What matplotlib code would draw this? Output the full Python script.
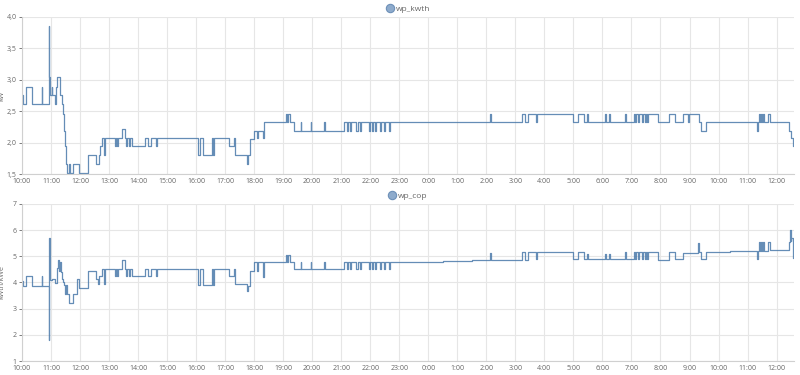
import matplotlib.pyplot as plt
from matplotlib.lines import Line2D
from matplotlib.ticker import FuncFormatter

plt.rcParams['font.family'] = ['Open Sans', 'DejaVu Sans']

# time in hours since 10:00 (day 1)
kwth_t = [0.00, 0.05, 0.14, 0.33, 0.68, 0.70, 0.92, 0.94, 0.96, 1.03, 1.05, 1.14,
          1.18, 1.20, 1.31, 1.38, 1.41, 1.44, 1.47, 1.50, 1.53, 1.56, 1.62, 1.64,
          1.77, 1.98, 2.29, 2.54, 2.67, 2.70, 2.74, 2.83, 2.86, 3.22, 3.25, 3.29,
          3.31, 3.45, 3.55, 3.60, 3.62, 3.70, 3.72, 3.79, 4.24, 4.33, 4.45, 4.62,
          4.66, 6.07, 6.13, 6.22, 6.53, 6.57, 6.62, 7.13, 7.30, 7.34, 7.74, 7.80,
          7.84, 8.00, 8.10, 8.13, 8.30, 8.33, 9.09, 9.14, 9.17, 9.22, 9.37, 9.60,
          9.62, 9.95, 9.97, 10.41, 10.44, 11.08, 11.20, 11.24, 11.31, 11.35, 11.52,
          11.56, 11.63, 11.67, 11.94, 11.98, 12.06, 12.10, 12.17, 12.21, 12.32,
          12.36, 12.46, 12.50, 12.63, 12.67, 16.13, 16.16, 17.24, 17.33, 17.43,
          17.71, 17.74, 19.00, 19.15, 19.38, 19.46, 19.49, 20.09, 20.12, 20.23,
          20.26, 20.76, 20.80, 21.09, 21.13, 21.16, 21.22, 21.26, 21.36, 21.40,
          21.47, 21.50, 21.53, 21.56, 21.93, 22.31, 22.51, 22.77, 22.94, 22.97,
          23.31, 23.40, 23.56, 25.32, 25.35, 25.40, 25.43, 25.46, 25.49, 25.52,
          25.55, 25.70, 25.76, 26.44, 26.50, 26.57, 26.60]
kwth_v = [2.75, 2.62, 2.89, 2.62, 2.89, 2.62, 3.86, 3.04, 2.75, 2.89, 2.75, 2.62,
          2.89, 3.04, 2.75, 2.62, 2.45, 2.19, 1.94, 1.80, 1.66, 1.52, 1.66, 1.52,
          1.66, 1.52, 1.80, 1.66, 1.80, 1.94, 2.08, 1.80, 2.08, 1.94, 2.08, 1.94,
          2.08, 2.21, 2.08, 1.94, 2.08, 1.94, 2.08, 1.94, 2.08, 1.94, 2.08, 1.94,
          2.08, 1.80, 2.08, 1.80, 2.08, 1.80, 2.08, 1.94, 2.08, 1.80, 1.66, 1.80,
          2.05, 2.19, 2.08, 2.19, 2.08, 2.32, 2.45, 2.32, 2.45, 2.32, 2.19, 2.32,
          2.19, 2.32, 2.19, 2.32, 2.19, 2.32, 2.19, 2.32, 2.19, 2.32, 2.19,
          2.32, 2.19, 2.32, 2.19, 2.32, 2.19, 2.32, 2.19, 2.32, 2.19,
          2.32, 2.19, 2.32, 2.19, 2.32, 2.45, 2.32, 2.45, 2.32, 2.45,
          2.32, 2.45, 2.32, 2.45, 2.32, 2.45, 2.32, 2.45, 2.32, 2.45,
          2.32, 2.45, 2.32, 2.45, 2.32, 2.45, 2.32, 2.45, 2.32, 2.45,
          2.32, 2.45, 2.32, 2.45, 2.32, 2.45, 2.32, 2.45, 2.32, 2.45,
          2.32, 2.19, 2.32, 2.19, 2.32, 2.45, 2.32, 2.45, 2.32, 2.45,
          2.32, 2.45, 2.32, 2.19, 2.08, 1.94, 1.94]

cop_t = [0.00, 0.05, 0.14, 0.33, 0.68, 0.70, 0.92, 0.93, 0.95, 0.98, 1.03, 1.14,
         1.20, 1.24, 1.27, 1.30, 1.33, 1.38, 1.41, 1.44, 1.48, 1.52, 1.55, 1.62,
         1.77, 1.90, 1.98, 2.29, 2.54, 2.62, 2.64, 2.67, 2.74, 2.83, 2.86, 3.22,
         3.25, 3.29, 3.31, 3.45, 3.55, 3.60, 3.62, 3.70, 3.72, 3.79, 4.24, 4.33,
         4.45, 4.62, 4.66, 6.07, 6.13, 6.22, 6.53, 6.57, 6.62, 7.13, 7.30, 7.34,
         7.74, 7.80, 7.84, 8.00, 8.10, 8.13, 8.30, 8.33, 9.09, 9.14, 9.17, 9.22,
         9.37, 9.60, 9.62, 9.95, 9.97, 10.41, 10.44, 11.08, 11.20, 11.24, 11.31,
         11.35, 11.52, 11.56, 11.63, 11.67, 11.94, 11.98, 12.06, 12.10, 12.17,
         12.21, 12.32, 12.36, 12.46, 12.50, 12.63, 12.67, 14.50, 15.50, 16.13,
         16.16, 17.24, 17.33, 17.43, 17.71, 17.74, 19.00, 19.15, 19.38, 19.46,
         19.49, 20.09, 20.12, 20.23, 20.26, 20.76, 20.80, 21.09, 21.13, 21.16,
         21.22, 21.26, 21.36, 21.40, 21.47, 21.50, 21.53, 21.56, 21.93, 22.31,
         22.51, 22.77, 23.28, 23.31, 23.40, 23.56, 24.40, 25.32, 25.35, 25.40,
         25.43, 25.46, 25.49, 25.52, 25.55, 25.70, 25.76, 26.44, 26.46, 26.48,
         26.50, 26.55, 26.60]
cop_v = [4.07, 3.88, 4.26, 3.88, 4.26, 3.88, 1.82, 5.70, 4.48, 4.10, 4.15, 3.98,
         4.55, 4.84, 4.45, 4.80, 4.40, 4.15, 4.00, 3.90, 3.55, 3.90, 3.55, 3.22,
         3.55, 4.12, 3.78, 4.45, 4.15, 3.95, 4.15, 4.25, 4.53, 3.95, 4.53, 4.25,
         4.53, 4.25, 4.53, 4.85, 4.53, 4.25, 4.53, 4.25, 4.53, 4.25, 4.53, 4.25,
         4.53, 4.25, 4.53, 3.90, 4.53, 3.90, 4.53, 3.90, 4.53, 4.25, 4.53, 3.93,
         3.67, 3.85, 4.45, 4.78, 4.45, 4.78, 4.22, 4.78, 5.06, 4.78, 5.06, 4.78,
         4.50, 4.78, 4.50, 4.78, 4.50, 4.78, 4.50, 4.78, 4.50, 4.78, 4.50,
         4.78, 4.50, 4.78, 4.50, 4.78, 4.50, 4.78, 4.50, 4.78, 4.50,
         4.78, 4.50, 4.78, 4.50, 4.78, 4.50, 4.80, 4.83, 4.85, 5.12,
         4.85, 5.15, 4.85, 5.15, 4.90, 5.17, 4.88, 5.17, 4.88, 5.10,
         4.88, 5.10, 4.88, 5.10, 4.88, 5.17, 4.88, 5.17, 4.88, 5.17,
         4.88, 5.17, 4.88, 5.17, 4.88, 5.17, 4.88, 5.17, 4.85, 5.17,
         4.88, 5.12, 5.50, 5.17, 4.88, 5.18, 5.20, 4.90, 5.22, 5.53,
         5.22, 5.53, 5.22, 5.53, 5.22, 5.53, 5.25, 5.55, 6.01, 5.60,
         5.70, 4.93, 4.93]

series = [
    ('wp_kwth', kwth_t, kwth_v, 'kW', (1.5, 4.0), [1.5, 2.0, 2.5, 3.0, 3.5, 4.0]),
    ('wp_cop', cop_t, cop_v, 'kWth/kWe', (1, 7), [1, 2, 3, 4, 5, 6, 7]),
]

line_col = '#4a79aa'
grid_col = '#e6e6e6'
txt_col = '#666666'

fig = plt.figure(figsize=(8, 3.75), dpi=100)
boxes = [[0.0275, 0.536, 0.965, 0.419], [0.0275, 0.0373, 0.965, 0.419]]

for (name, t, v, ylab, ylim, yt), box in zip(series, boxes):
    ax = fig.add_axes(box)
    ax.plot(t, v, drawstyle='steps-post', color=line_col, lw=0.9, alpha=0.85)
    ax.set_xlim(0, 26.6)
    ax.set_ylim(*ylim)
    ax.set_xticks(range(0, 27))
    ax.xaxis.set_major_formatter(FuncFormatter(lambda x, p: '%d:00' % ((10 + int(round(x))) % 24)))
    ax.set_yticks(yt)
    if ylim[1] < 5:
        ax.yaxis.set_major_formatter(FuncFormatter(lambda y, p: ('%.1f' % y).replace('.', ',')))
    ax.grid(True, color=grid_col, lw=0.8)
    ax.set_axisbelow(True)
    for s in ['top', 'right']:
        ax.spines[s].set_visible(False)
    for s in ['left', 'bottom']:
        ax.spines[s].set_color('#d0d0d0')
        ax.spines[s].set_linewidth(0.8)
    ax.tick_params(labelsize=5, colors=txt_col, length=2, width=0.6, pad=2)
    ax.tick_params(axis='x', length=0, pad=3)
    ax.set_ylabel(ylab, fontsize=5, color=txt_col)
    ax.yaxis.set_label_coords(-0.021, 0.5)
    h = Line2D([], [], marker='o', ls='', ms=6, mfc='#8eabcc', mec='#6d90b8', mew=0.8)
    ax.legend([h], [name], loc='lower center', bbox_to_anchor=(0.5, 1.0), frameon=False,
              fontsize=6, labelcolor=txt_col, handletextpad=0.2, borderaxespad=0.1,
              handlelength=1.0)

fig.savefig('out.png', dpi=100)
